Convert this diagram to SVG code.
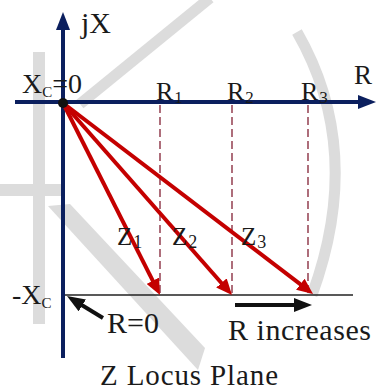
<svg xmlns="http://www.w3.org/2000/svg" width="376" height="391" viewBox="0 0 376 391">
<style>
  .t{font-family:"Liberation Serif","Times New Roman",serif;fill:#1a1a1a}
  .wm{fill:none;stroke:#dcdcdc;stroke-width:11}
  .wf{fill:#dcdcdc}
  .axis{stroke:#0b1f5e;stroke-width:4;fill:none}
  .z{stroke:#c40000;stroke-width:4;fill:none}
  .dash{stroke:#9a4a5a;stroke-width:1.6;stroke-dasharray:8 4;fill:none}
  .blk{stroke:#111;stroke-width:4;fill:none}
</style>
<defs>
  <marker id="ah-blue" markerUnits="userSpaceOnUse" markerWidth="20" markerHeight="14" refX="8" refY="7" orient="auto"><path d="M0,0 L18,7 L0,14 z" fill="#0b1f5e"/></marker>
  <marker id="ah-red" markerUnits="userSpaceOnUse" markerWidth="18" markerHeight="14" refX="6" refY="7" orient="auto"><path d="M0,0 L16,7 L0,14 z" fill="#c40000"/></marker>
  <marker id="ah-blk" markerUnits="userSpaceOnUse" markerWidth="20" markerHeight="14" refX="8" refY="7" orient="auto"><path d="M0,0 L18,7 L0,14 z" fill="#111"/></marker>
</defs>
<rect width="376" height="391" fill="#fff"/>
<g id="watermark">
  <line class="wm" x1="80" y1="104" x2="210" y2="-2"/>
  <rect class="wf" x="33" y="52" width="12" height="272"/>
  <rect class="wf" x="0" y="184" width="63" height="12"/>
  <polygon class="wf" points="48,206 70,204 205,348 198,370"/>
  <path class="wm" d="M297 32 Q365 150 312 295"/>
</g>
<g id="connectors">
  <line class="dash" x1="160" y1="105" x2="160" y2="294"/>
  <line class="dash" x1="232" y1="105" x2="232" y2="294"/>
  <line class="dash" x1="308" y1="105" x2="308" y2="294"/>
  <line x1="65" y1="295" x2="353" y2="295" stroke="#222" stroke-width="1.6"/>
  <line class="axis" x1="63" y1="358" x2="63" y2="22" marker-end="url(#ah-blue)"/>
  <line class="axis" x1="15" y1="102" x2="366" y2="102" marker-end="url(#ah-blue)"/>
  <line class="z" x1="63" y1="103" x2="155.5" y2="286.1" marker-end="url(#ah-red)"/>
  <line class="z" x1="63" y1="103" x2="225.4" y2="287.5" marker-end="url(#ah-red)"/>
  <line class="z" x1="63" y1="103" x2="305.1" y2="287.9" marker-end="url(#ah-red)"/>
  <line class="blk" x1="235" y1="305" x2="302" y2="305" marker-end="url(#ah-blk)"/>
  <line class="blk" x1="103" y1="318" x2="75.5" y2="301.2" marker-end="url(#ah-blk)"/>
</g>
<g id="origin"><circle cx="63" cy="103" r="5" fill="#111"/></g>
<g id="labels">
  <text class="t" x="81" y="33" font-size="30">jX</text>
  <text class="t" x="354" y="84" font-size="27">R</text>
  <text class="t" x="22" y="93" font-size="28">X<tspan font-size="15" dy="4">C</tspan><tspan dy="-4">=0</tspan></text>
  <text class="t" x="156" y="100" font-size="26">R<tspan font-size="17" dy="3" dx="1">1</tspan></text>
  <text class="t" x="227" y="100" font-size="26">R<tspan font-size="17" dy="3" dx="1">2</tspan></text>
  <text class="t" x="301" y="100" font-size="26">R<tspan font-size="17" dy="3" dx="1">3</tspan></text>
  <text class="t" x="117" y="245" font-size="25">Z<tspan font-size="18" dy="3" dx="1">1</tspan></text>
  <text class="t" x="172" y="245" font-size="25">Z<tspan font-size="18" dy="3" dx="1">2</tspan></text>
  <text class="t" x="241" y="245" font-size="25">Z<tspan font-size="18" dy="3" dx="1">3</tspan></text>
  <text class="t" x="12" y="304" font-size="28">-X<tspan font-size="15" dy="4">C</tspan></text>
  <text class="t" x="107" y="333" font-size="30">R=0</text>
  <text class="t" x="228" y="340" font-size="30" textLength="143">R increases</text>
  <text class="t" x="100" y="385" font-size="29" textLength="178">Z Locus Plane</text>
</g>
</svg>
